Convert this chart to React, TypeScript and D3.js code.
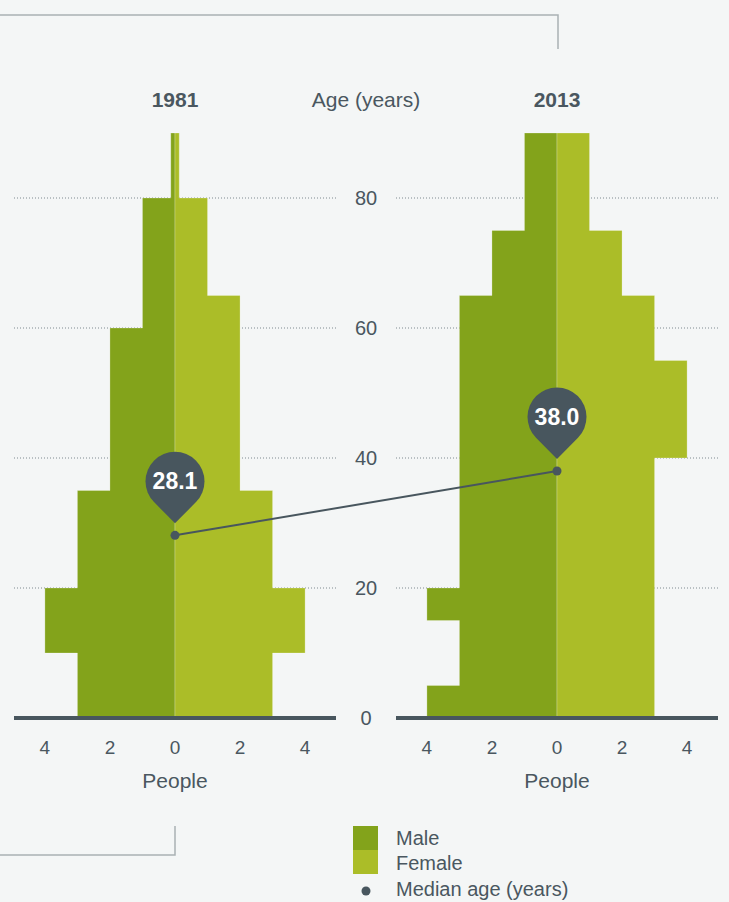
import React from "react";
import * as d3 from "d3";

// ---- Data ----
const years = ["1981", "2013"];
const male1981 = [
  { from: 0, to: 10, value: 3 },
  { from: 10, to: 20, value: 4 },
  { from: 20, to: 35, value: 3 },
  { from: 35, to: 60, value: 2 },
  { from: 60, to: 80, value: 1 },
  { from: 80, to: 90, value: 0.13 },
];
const female1981 = [
  { from: 0, to: 10, value: 3 },
  { from: 10, to: 20, value: 4 },
  { from: 20, to: 35, value: 3 },
  { from: 35, to: 65, value: 2 },
  { from: 65, to: 80, value: 1 },
  { from: 80, to: 90, value: 0.13 },
];
const male2013 = [
  { from: 0, to: 5, value: 4 },
  { from: 5, to: 15, value: 3 },
  { from: 15, to: 20, value: 4 },
  { from: 20, to: 65, value: 3 },
  { from: 65, to: 75, value: 2 },
  { from: 75, to: 90, value: 1 },
];
const female2013 = [
  { from: 0, to: 40, value: 3 },
  { from: 40, to: 55, value: 4 },
  { from: 55, to: 65, value: 3 },
  { from: 65, to: 75, value: 2 },
  { from: 75, to: 90, value: 1 },
];
const medianAges = [28.1, 38.0];
const peopleTicks = [-4, -2, 0, 2, 4];
const ageTicks = [0, 20, 40, 60, 80];
const legendLabels = ["Male", "Female", "Median age (years)"];

// ---- Styles ----
const W = 729;
const H = 902;
const BG = "#f4f6f6";
const MALE = "#83a31b";
const FEMALE = "#abbd28";
const DARK = "#48565e";
const TEXT = "#4a5760";
const BORDER = "#a9b1b4";
const FONT = "'Liberation Sans', Arial, Helvetica, sans-serif";

const y = d3.scaleLinear().domain([0, 90]).range([718, 133]);
const xLeft = d3.scaleLinear().domain([-4.95, 4.95]).range([14, 336]);
const xRight = d3.scaleLinear().domain([-4.95, 4.95]).range([396, 718]);

type Bin = { from: number; to: number; value: number };

function sidePath(bins: Bin[], x: d3.ScaleLinear<number, number>, sign: number): string {
  const pts: [number, number][] = [[x(0), y(bins[0].from)]];
  bins.forEach((b) => {
    pts.push([x(sign * b.value), y(b.from)]);
    pts.push([x(sign * b.value), y(b.to)]);
  });
  pts.push([x(0), y(bins[bins.length - 1].to)]);
  return (d3.line()(pts) as string) + "Z";
}

function Pyramid({ x, male, female, title }: { x: d3.ScaleLinear<number, number>; male: Bin[]; female: Bin[]; title: string }) {
  const [x0, x1] = x.range();
  const cx = x(0);
  return (
    <g>
      {ageTicks.filter((t) => t > 0).map((t) => (
        <line key={t} x1={x0} x2={x1} y1={y(t)} y2={y(t)} stroke="#7f8a90" strokeWidth={1} strokeDasharray="1 2" />
      ))}
      <path d={sidePath(male, x, -1)} fill={MALE} stroke="#ffffff" strokeOpacity={0.3} strokeWidth={0.8} />
      <path d={sidePath(female, x, 1)} fill={FEMALE} stroke="#ffffff" strokeOpacity={0.3} strokeWidth={0.8} />
      <line x1={x0} x2={x1} y1={y(0)} y2={y(0)} stroke={DARK} strokeWidth={4} />
      {peopleTicks.map((t) => (
        <text key={t} x={x(t)} y={754} textAnchor="middle" fontSize={19} fill={TEXT}>
          {Math.abs(t)}
        </text>
      ))}
      <text x={cx} y={788} textAnchor="middle" fontSize={21} fill={TEXT}>People</text>
      <text x={cx} y={107} textAnchor="middle" fontSize={21} fontWeight="bold" fill={TEXT}>{title}</text>
    </g>
  );
}

function Pin({ cx, cy, label }: { cx: number; cy: number; label: string }) {
  const r = 29.5;
  const centerY = cy - 54;
  const tipY = cy - 12;
  const d = tipY - centerY;
  const th = Math.acos(r / d);
  const tx = r * Math.sin(th);
  const ty = r * Math.cos(th);
  const path = `M${cx},${tipY} L${cx - tx},${centerY + ty} A${r},${r} 0 1 1 ${cx + tx},${centerY + ty} Z`;
  return (
    <g>
      <path d={path} fill={DARK} />
      <text x={cx} y={centerY + 8} textAnchor="middle" fontSize={23} fontWeight="bold" fill="#ffffff">{label}</text>
    </g>
  );
}

export default function App() {
  const scales = [xLeft, xRight];
  const pts = medianAges.map((m, i) => [scales[i](0), y(m)] as [number, number]);
  const line = d3.line()(pts) as string;
  return (
    <svg width={W} height={H} style={{ position: "absolute", left: 0, top: 0, fontFamily: FONT }}>
      <rect width={W} height={H} fill={BG} />
      <polyline points="0,15 558,15 558,49" fill="none" stroke={BORDER} strokeWidth={1.5} />
      <polyline points="175,826 175,855 0,855" fill="none" stroke={BORDER} strokeWidth={1.5} />
      <Pyramid x={xLeft} male={male1981} female={female1981} title={years[0]} />
      <Pyramid x={xRight} male={male2013} female={female2013} title={years[1]} />
      <text x={366} y={107} textAnchor="middle" fontSize={21} fill={TEXT}>Age (years)</text>
      {ageTicks.map((t) => (
        <text key={t} x={366} y={y(t) + 7} textAnchor="middle" fontSize={20} fill={TEXT}>{t}</text>
      ))}
      <path d={line} fill="none" stroke={DARK} strokeWidth={2} />
      {pts.map((p, i) => (
        <circle key={i} cx={p[0]} cy={p[1]} r={4.5} fill={DARK} />
      ))}
      {pts.map((p, i) => (
        <Pin key={"p" + i} cx={p[0]} cy={p[1]} label={medianAges[i].toFixed(1)} />
      ))}
      <rect x={353} y={826} width={25} height={24} fill={MALE} />
      <rect x={353} y={850} width={25} height={24} fill={FEMALE} />
      <circle cx={366} cy={891} r={4.5} fill={DARK} />
      <text x={396} y={845} fontSize={20} fill={TEXT}>{legendLabels[0]}</text>
      <text x={396} y={870} fontSize={20} fill={TEXT}>{legendLabels[1]}</text>
      <text x={396} y={896} fontSize={20} fill={TEXT}>{legendLabels[2]}</text>
    </svg>
  );
}
